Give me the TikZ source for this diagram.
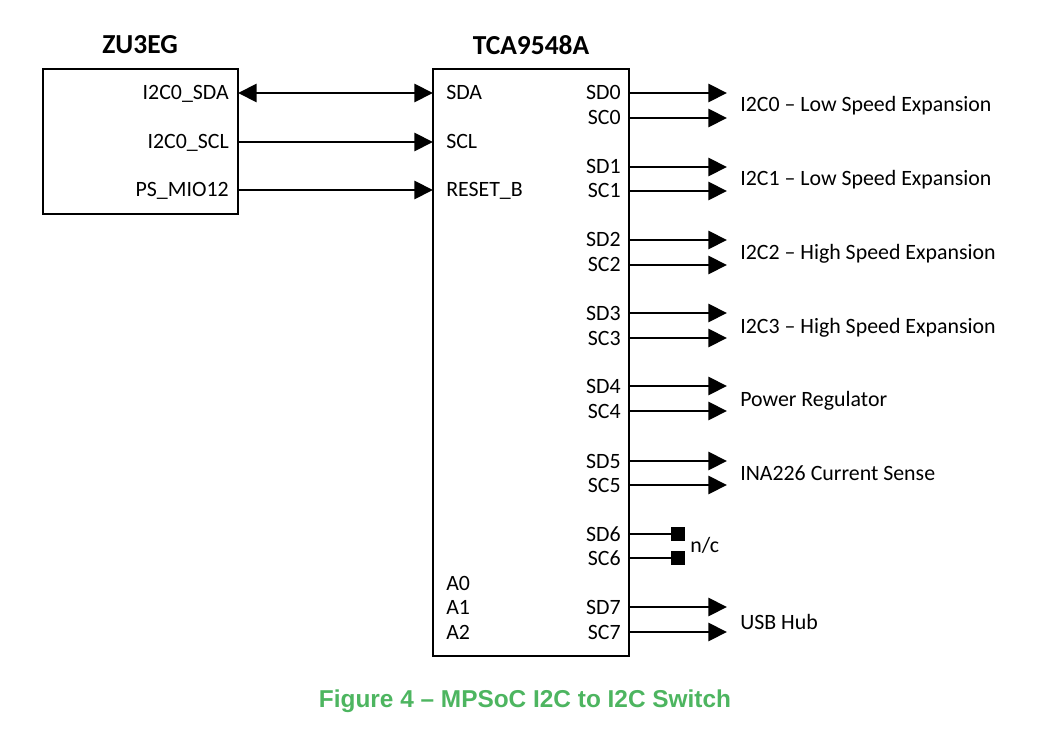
\documentclass[tikz,border=0pt]{standalone}
\usepackage{fontspec}
\setmainfont{Carlito}
\newfontfamily\capfont{Liberation Sans}
\usetikzlibrary{arrows.meta}
\definecolor{capgreen}{HTML}{4DB560}
\begin{document}
\begin{tikzpicture}[x=0.75pt,y=-0.75pt,
  box/.style={draw, line width=1.1pt, inner sep=0pt},
  sig/.style={line width=2.1pt, -{Triangle[length=14pt,width=13.5pt]}},
  bisig/.style={line width=2.1pt, {Triangle[length=14pt,width=13.5pt]}-{Triangle[length=14pt,width=13.5pt]}},
  nc/.style={line width=2.1pt},
  ncbox/.style={fill=black, inner sep=0pt, minimum size=9.8pt},
  pin/.style={inner sep=0pt, font=\fontsize{16.4}{18}\selectfont},
  dest/.style={inner sep=0pt, anchor=base west, font=\fontsize{16.4}{18}\selectfont},
  ttl/.style={inner sep=0pt, font=\fontsize{20.6}{22}\selectfont\bfseries},
  caption/.style={inner sep=0pt, text=capgreen, font=\capfont\fontsize{18.3}{20}\selectfont\bfseries}
]
\useasboundingbox (0,0) rectangle (1057,731);

% boxes
\node[box, minimum width=146.25pt, minimum height=108.75pt] (zu) at (140.5,141.5) {};
\node[box, minimum width=147pt, minimum height=440.25pt] (tca) at (531,362.5) {};
\node[ttl] (zuttl) at (140,45) {ZU3EG};
\node[ttl] (tcattl) at (531,45) {TCA9548A};

% left pins
\node[pin, anchor=base east] (lsda) at (229,100) {I2C0\_SDA};
\node[pin, anchor=base east] (lscl) at (229,149) {I2C0\_SCL};
\node[pin, anchor=base east] (lmio) at (229,197) {PS\_MIO12};
\node[pin, anchor=base west] (rsda) at (446,100) {SDA};
\node[pin, anchor=base west] (rscl) at (446,149) {SCL};
\node[pin, anchor=base west] (rrst) at (446,197) {RESET\_B};
\node[pin, anchor=base west] (ra0) at (446,590) {A0};
\node[pin, anchor=base west] (ra1) at (446,614) {A1};
\node[pin, anchor=base west] (ra2) at (446,639) {A2};

\coordinate (zsda) at (238,93);
\coordinate (zscl) at (238,142);
\coordinate (zmio) at (238,190);
\coordinate (tsda) at (433,93);
\coordinate (tscl) at (433,142);
\coordinate (trst) at (433,190);
\draw[bisig] (zsda) -- (tsda);
\draw[sig] (zscl) -- (tscl);
\draw[sig] (zmio) -- (trst);

% right pins
\foreach \i/\yd/\yc in {0/93/118,1/167/191,2/240/265,3/313/338,4/386/411,5/461/485,6/534/558,7/607/632}{
  \node[pin, anchor=base east] (sd\i) at (621,\yd+7) {SD\i};
  \node[pin, anchor=base east] (sc\i) at (621,\yc+7) {SC\i};
  \coordinate (psd\i) at (629,\yd);
  \coordinate (psc\i) at (629,\yc);
}
\foreach \i/\yd/\yc in {0/93/118,1/167/191,2/240/265,3/313/338,4/386/411,5/461/485,7/607/632}{
  \coordinate (esd\i) at (727,\yd);
  \coordinate (esc\i) at (727,\yc);
  \draw[sig] (psd\i) -- (esd\i);
  \draw[sig] (psc\i) -- (esc\i);
}

% n/c
\node[ncbox] (ncd) at (678,534) {};
\node[ncbox] (ncc) at (678,558) {};
\draw[nc] (psd6) -- (ncd.west);
\draw[nc] (psc6) -- (ncc.west);
\node[dest] (nclbl) at (690,552) {n/c};

% destinations
\node[dest] (d0) at (740,112) {I2C0 – Low Speed Expansion};
\node[dest] (d1) at (740,186) {I2C1 – Low Speed Expansion};
\node[dest] (d2) at (740,259) {I2C2 – High Speed Expansion};
\node[dest] (d3) at (740,333) {I2C3 – High Speed Expansion};
\node[dest] (d4) at (740,406) {Power Regulator};
\node[dest] (d5) at (740,480) {INA226 Current Sense};
\node[dest] (d7) at (740,629) {USB Hub};

\node[caption] (cap) at (525,701) {Figure 4 – MPSoC I2C to I2C Switch};
\end{tikzpicture}
\end{document}
